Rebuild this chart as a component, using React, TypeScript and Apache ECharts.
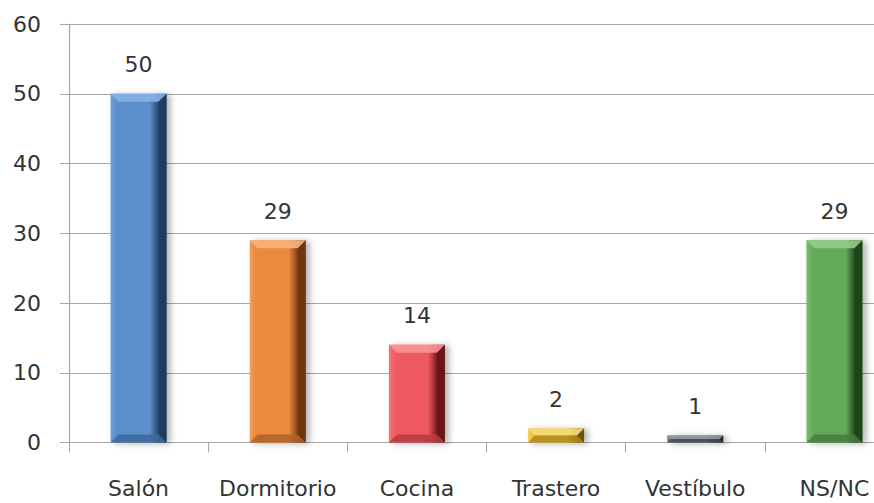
import React, { useEffect, useRef } from "react";
import * as echarts from "echarts";

const categories = ["Salón", "Dormitorio", "Cocina", "Trastero", "Vestíbulo", "NS/NC"];
const values = [50, 29, 14, 2, 1, 29];
const baseColors = ["#5A8FCC", "#EB893D", "#EE5A5E", "#ECBC32", "#666C76", "#63AB59"];
const lightColors = ["#6E9FDA", "#F59D58", "#F87476", "#F6CC50", "#7C838D", "#77BC6C"];
const darkColors = ["#1F3C60", "#6E3510", "#6A1316", "#6E5206", "#23262B", "#1F4419"];
const topColors = ["#86B3E6", "#F8B47E", "#FA9597", "#F8DC7A", "#959BA4", "#92CC87"];
const bottomColors = ["#3E6896", "#B0602A", "#B63C3F", "#B08A1C", "#474C54", "#447E3C"];

const BAR_W = 56;

export default function App() {
  const ref = useRef<HTMLDivElement>(null);
  useEffect(() => {
    if (!ref.current) return;
    const chart = echarts.init(ref.current, null, { renderer: "svg" });
    const font = "'DejaVu Sans', sans-serif";
    chart.setOption({
      animation: false,
      grid: { left: 69, top: 24, width: 835, height: 418.5, containLabel: false },
      xAxis: {
        type: "category",
        data: categories,
        boundaryGap: true,
        axisLine: { show: true, lineStyle: { color: "#A6A6A6", width: 1.2 } },
        axisTick: { show: true, length: 10, alignWithLabel: false, lineStyle: { color: "#A6A6A6" } },
        axisLabel: { color: "#333333", fontSize: 22, fontFamily: font, margin: 35, interval: 0 },
      },
      yAxis: {
        type: "value",
        min: 0,
        max: 60,
        interval: 10,
        axisLine: { show: true, lineStyle: { color: "#A6A6A6", width: 1.2 } },
        axisTick: { show: true, length: 9, lineStyle: { color: "#A6A6A6" } },
        splitLine: { show: true, lineStyle: { color: "#A6A6A6", width: 1.2 } },
        axisLabel: { color: "#333333", fontSize: 22, fontFamily: font, margin: 28 },
      },
      series: [
        {
          type: "bar",
          barWidth: BAR_W,
          z: 2,
          data: values.map((v, i) => ({
            value: v,
            itemStyle: {
              color: new echarts.graphic.LinearGradient(0, 0, 1, 0, [
                { offset: 0, color: lightColors[i] },
                { offset: 0.12, color: baseColors[i] },
                { offset: 0.7, color: baseColors[i] },
                { offset: 0.88, color: darkColors[i] },
                { offset: 1, color: darkColors[i] },
              ]),
              shadowColor: "rgba(0,0,0,0.3)",
              shadowBlur: 6,
              shadowOffsetX: 4,
              shadowOffsetY: 1,
            },
          })),
          label: {
            show: true,
            position: "top",
            distance: 18,
            color: "#333333",
            fontSize: 22,
            fontFamily: font,
          },
        },
        {
          type: "custom",
          silent: true,
          z: 5,
          encode: { x: 0, y: 1 },
          data: values.map((v, i) => [i, v]),
          renderItem: (params: any, api: any) => {
            const i = params.dataIndex;
            const top = api.coord([i, values[i]]);
            const base = api.coord([i, 0]);
            const cx = top[0];
            const x0 = cx - BAR_W / 2;
            const x1 = cx + BAR_W / 2;
            const yt = top[1];
            const yb = base[1];
            const h = yb - yt;
            const b = Math.min(8, h / 2);
            return {
              type: "group",
              children: [
                {
                  type: "polygon",
                  shape: { points: [[x0, yt], [x1, yt], [x1 - b, yt + b], [x0 + b, yt + b]] },
                  style: { fill: topColors[i], opacity: 0.9 },
                },
                {
                  type: "polygon",
                  shape: { points: [[x0, yb], [x1, yb], [x1 - b, yb - b], [x0 + b, yb - b]] },
                  style: { fill: bottomColors[i], opacity: 0.85 },
                },
                {
                  type: "polygon",
                  shape: { points: [[x1, yt], [x1, yb], [x1 - b, yb - b], [x1 - b, yt + b]] },
                  style: { fill: darkColors[i], opacity: 0.5 },
                },
              ],
            };
          },
        },
      ],
    });
    return () => chart.dispose();
  }, []);
  return (
    <div style={{ width: 874, height: 503, overflow: "hidden", position: "fixed", left: 0, top: 0, background: "#fff" }}>
      <div ref={ref} style={{ width: 920, height: 520 }} />
    </div>
  );
}
